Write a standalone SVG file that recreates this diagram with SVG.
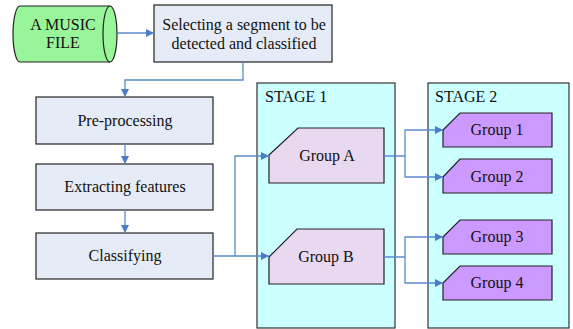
<svg xmlns="http://www.w3.org/2000/svg" width="573" height="329" viewBox="0 0 573 329">
<style>
text{font-family:'Liberation Serif','Times New Roman','DejaVu Serif',serif;font-size:16px;fill:#111;text-anchor:middle}
.box{fill:#E6ECF7;stroke:#222;stroke-width:1.2}
.stage{fill:#CCFFFF;stroke:#333;stroke-width:1.2}
.ga{fill:#E8D8F0;stroke:#222;stroke-width:1.2}
.g2{fill:#CC99FF;stroke:#222;stroke-width:1.2}
.c{fill:none;stroke:#5B8BCF;stroke-width:1.3}
.lbl{text-anchor:start}
</style>
<defs>
<marker id="ah" viewBox="0 0 10 10" refX="10" refY="5" markerWidth="10" markerHeight="8" markerUnits="userSpaceOnUse" orient="auto">
<path d="M0,0 L10,5 L0,10 Z" fill="#4A7CC7"/>
</marker>
</defs>
<g font-family="Liberation Serif, serif">
<g id="stage1"><rect class="stage" x="257" y="83" width="138" height="245"/><text class="lbl" x="265" y="102">STAGE 1</text></g>
<g id="stage2"><rect class="stage" x="428" y="83" width="141" height="245"/><text class="lbl" x="435" y="102">STAGE 2</text></g>
<g id="music">
<path d="M20,6 L110,6 A7,28 0 0 1 110,62 L20,62 A7,28 0 0 1 20,6 Z" fill="#99F599" stroke="#222" stroke-width="1.2"/>
<path d="M110,6 A7,28 0 0 0 110,62" fill="none" stroke="#222" stroke-width="1.2"/>
<text x="63" y="30">A MUSIC</text><text x="63" y="48">FILE</text>
</g>
<g id="select"><rect class="box" x="154" y="5" width="178" height="57"/><text x="244" y="30">Selecting a segment to be</text><text x="244" y="49">detected and classified</text></g>
<g id="pre"><rect class="box" x="36" y="97" width="177" height="47"/><text x="125" y="126">Pre-processing</text></g>
<g id="extract"><rect class="box" x="36" y="164" width="177" height="46"/><text x="125" y="192">Extracting features</text></g>
<g id="classify"><rect class="box" x="36" y="233" width="177" height="46"/><text x="125" y="261">Classifying</text></g>
<g id="groupA"><path class="ga" d="M269,155 L298,128 L384,128 L384,183 L269,183 Z"/><text x="327" y="161">Group A</text></g>
<g id="groupB"><path class="ga" d="M269,257 L297,229 L384,229 L384,284 L269,284 Z"/><text x="326" y="262">Group B</text></g>
<g id="group1"><path class="g2" d="M443,130 L460,113 L552,113 L552,147 L443,147 Z"/><text x="497" y="135">Group 1</text></g>
<g id="group2"><path class="g2" d="M443,177 L460,159 L552,159 L552,193 L443,193 Z"/><text x="497" y="182">Group 2</text></g>
<g id="group3"><path class="g2" d="M443,237 L460,220 L552,220 L552,254 L443,254 Z"/><text x="497" y="242">Group 3</text></g>
<g id="group4"><path class="g2" d="M443,283 L460,266 L552,266 L552,300 L443,300 Z"/><text x="497" y="288">Group 4</text></g>
</g>
<g id="connectors">
<path class="c" d="M117,33 L154,33" marker-end="url(#ah)"/>
<path class="c" d="M243,62 L243,80 L125,80 L125,97" marker-end="url(#ah)"/>
<path class="c" d="M125,144 L125,164" marker-end="url(#ah)"/>
<path class="c" d="M125,210 L125,233" marker-end="url(#ah)"/>
<path class="c" d="M213,256 L235,256 L235,156 L269,156" marker-end="url(#ah)"/>
<path class="c" d="M235,256 L269,256" marker-end="url(#ah)"/>
<path class="c" d="M384,156 L405,156 L405,130 L443,130" marker-end="url(#ah)"/>
<path class="c" d="M405,156 L405,177 L443,177" marker-end="url(#ah)"/>
<path class="c" d="M384,257 L405,257 L405,237 L443,237" marker-end="url(#ah)"/>
<path class="c" d="M405,257 L405,283 L443,283" marker-end="url(#ah)"/>
</g>
</svg>
